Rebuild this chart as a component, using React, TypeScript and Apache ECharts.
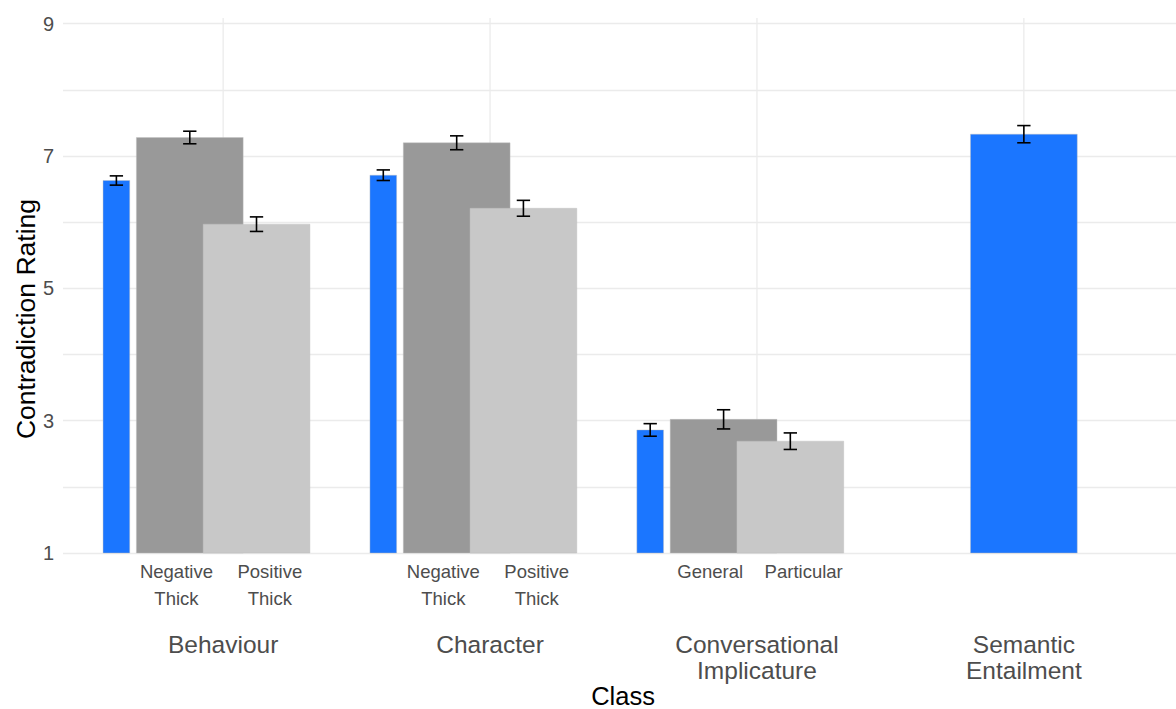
import React, { useEffect, useRef } from "react";
import * as echarts from "echarts";

// ---- data ----
const classLabels = ["Behaviour", "Character", "Conversational\nImplicature", "Semantic\nEntailment"];
const firstLabels = ["Negative\nThick", "Negative\nThick", "General", ""];
const secondLabels = ["Positive\nThick", "Positive\nThick", "Particular", ""];
const baselineMean = [6.63, 6.71, 2.86, 7.33];
const baselineSE = [0.07, 0.08, 0.095, 0.13];
const firstMean: (number | null)[] = [7.28, 7.2, 3.02, null];
const firstSE: (number | null)[] = [0.095, 0.105, 0.145, null];
const secondMean: (number | null)[] = [5.97, 6.21, 2.69, null];
const secondSE: (number | null)[] = [0.11, 0.12, 0.125, null];
const yTickLabels = [1, 3, 5, 7, 9];

// ---- layout / style ----
const Y_MIN = 1;
const Y_MAX = 9.086;
const X_MIN = 0.4;
const X_MAX = 4.57;
const FONT = "'Liberation Sans', Arial, Helvetica, sans-serif";
const COLORS = ["#1b76ff", "#999999", "#c8c8c8"];
const NARROW = 0.1;
const WIDE = 0.4;
const BLUE_OFFSET = -0.4;
const SUB_OFFSET = 0.125;
const LABEL_OFFSET = 0.175;
const CAP = 0.05;

type BarItem = { x: number; mean: number; se: number; width: number; kind: number };
const bars: BarItem[] = [];
classLabels.forEach((_, i) => {
  const c = i + 1;
  const hasSub = firstMean[i] != null;
  bars.push({ x: c + (hasSub ? BLUE_OFFSET : 0), mean: baselineMean[i], se: baselineSE[i], width: hasSub ? NARROW : WIDE, kind: 0 });
  if (hasSub) {
    bars.push({ x: c - SUB_OFFSET, mean: firstMean[i] as number, se: firstSE[i] as number, width: WIDE, kind: 1 });
    bars.push({ x: c + SUB_OFFSET, mean: secondMean[i] as number, se: secondSE[i] as number, width: WIDE, kind: 2 });
  }
});

type LabelItem = { x: number; text: string; kind: "sub" | "cls" };
const labels: LabelItem[] = [];
classLabels.forEach((name, i) => {
  const c = i + 1;
  labels.push({ x: c, text: name, kind: "cls" });
  if (firstLabels[i]) labels.push({ x: c - LABEL_OFFSET, text: firstLabels[i], kind: "sub" });
  if (secondLabels[i]) labels.push({ x: c + LABEL_OFFSET, text: secondLabels[i], kind: "sub" });
});

export default function App() {
  const ref = useRef<HTMLDivElement>(null);
  useEffect(() => {
    document.body.style.margin = "0";
    const chart = echarts.init(ref.current!, undefined, { renderer: "svg" });
    const option: any = {
      animation: false,
      backgroundColor: "#ffffff",
      grid: { left: 63, right: 0, top: 18, bottom: 156, containLabel: false, outerBoundsMode: "none" },
      xAxis: { type: "value", min: X_MIN, max: X_MAX, show: false },
      yAxis: {
        type: "value",
        min: Y_MIN,
        max: Y_MAX,
        interval: 1,
        axisLine: { show: false },
        axisTick: { show: false },
        axisLabel: {
          margin: 9,
          fontSize: 20,
          fontFamily: FONT,
          color: "#4d4d4d",
          showMaxLabel: false,
          formatter: (v: number) => (yTickLabels.indexOf(Math.round(v * 1000) / 1000) >= 0 ? String(v) : ""),
        },
        splitLine: { show: true, showMaxLine: false, lineStyle: { color: "#ebebeb", width: 1.3 } },
      },
      graphic: [
        {
          type: "text",
          x: 623,
          y: 696,
          style: { text: "Class", fontSize: 25.5, fontFamily: FONT, fill: "#000", textAlign: "center", textVerticalAlign: "middle", align: "center", verticalAlign: "middle" },
        },
        {
          type: "text",
          x: 26,
          y: 319,
          rotation: Math.PI / 2,
          style: { text: "Contradiction Rating", fontSize: 26.5, fontFamily: FONT, fill: "#000", textAlign: "center", textVerticalAlign: "middle", align: "center", verticalAlign: "middle" },
        },
      ],
      series: [
        {
          type: "custom",
          name: "vgrid",
          z: 1,
          silent: true,
          clip: false,
          data: classLabels.map((_, i) => [i + 1, Y_MIN]),
          renderItem: (params: any, api: any) => {
            const bottom = api.coord([api.value(0), Y_MIN]);
            const top = api.coord([api.value(0), Y_MAX]);
            return {
              type: "line",
              shape: { x1: bottom[0], y1: bottom[1], x2: top[0], y2: top[1] },
              style: { stroke: "#ebebeb", lineWidth: 1.3 },
            };
          },
        },
        {
          type: "custom",
          name: "bars",
          z: 2,
          clip: false,
          data: bars.map((b) => [b.x, b.mean]),
          renderItem: (params: any, api: any) => {
            const b = bars[params.dataIndex];
            const tl = api.coord([b.x - b.width / 2, b.mean]);
            const br = api.coord([b.x + b.width / 2, Y_MIN]);
            return {
              type: "rect",
              shape: { x: tl[0], y: tl[1], width: br[0] - tl[0], height: br[1] - tl[1] },
              style: { fill: COLORS[b.kind], stroke: "rgba(190,190,190,0.7)", lineWidth: 0.6 },
            };
          },
        },
        {
          type: "custom",
          name: "errors",
          z: 3,
          clip: false,
          data: bars.map((b) => [b.x, b.mean]),
          renderItem: (params: any, api: any) => {
            const b = bars[params.dataIndex];
            const lo = api.coord([b.x, b.mean - b.se]);
            const hi = api.coord([b.x, b.mean + b.se]);
            const half = api.size([CAP, 0])[0] / 2;
            const st = { stroke: "#000000", lineWidth: 1.6 };
            return {
              type: "group",
              children: [
                { type: "line", shape: { x1: lo[0], y1: lo[1], x2: hi[0], y2: hi[1] }, style: st },
                { type: "line", shape: { x1: lo[0] - half, y1: lo[1], x2: lo[0] + half, y2: lo[1] }, style: st },
                { type: "line", shape: { x1: hi[0] - half, y1: hi[1], x2: hi[0] + half, y2: hi[1] }, style: st },
              ],
            };
          },
        },
        {
          type: "custom",
          name: "labels",
          z: 3,
          clip: false,
          silent: true,
          data: labels.map((l) => [l.x, Y_MIN]),
          renderItem: (params: any, api: any) => {
            const l = labels[params.dataIndex];
            const p = api.coord([l.x, Y_MIN]);
            const isCls = l.kind === "cls";
            return {
              type: "text",
              x: p[0],
              y: p[1] + (isCls ? 78 : 5.4),
              style: {
                text: l.text,
                fontSize: isCls ? 24.5 : 18.5,
                fontFamily: FONT,
                fill: "#4d4d4d",
                lineHeight: isCls ? 26.5 : 26.6,
                textAlign: "center",
                textVerticalAlign: "top",
                align: "center",
                verticalAlign: "top",
              },
            };
          },
        },
      ],
    };
    chart.setOption(option);
    return () => chart.dispose();
  }, []);
  return <div ref={ref} style={{ width: 1176, height: 709 }} />;
}
